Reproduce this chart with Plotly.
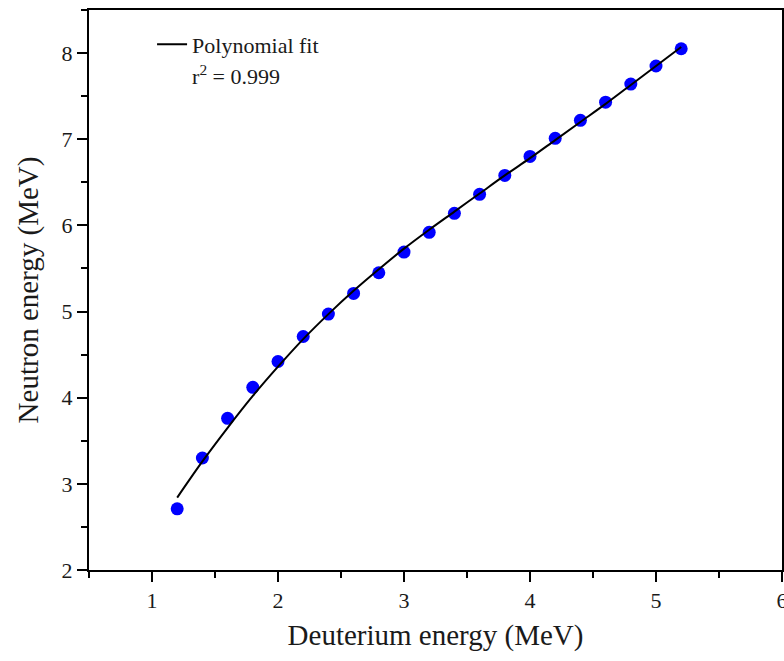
import plotly.graph_objects as go

# Data points
deuterium_energy = [1.2, 1.4, 1.6, 1.8, 2.0, 2.2, 2.4, 2.6, 2.8, 3.0, 3.2,
                    3.4, 3.6, 3.8, 4.0, 4.2, 4.4, 4.6, 4.8, 5.0, 5.2]
neutron_energy = [2.71, 3.30, 3.76, 4.12, 4.42, 4.71, 4.97, 5.21, 5.45, 5.69, 5.92,
                  6.14, 6.36, 6.58, 6.80, 7.01, 7.22, 7.43, 7.64, 7.85, 8.05]

# Polynomial fit curve
fit_x = [1.2, 1.4, 1.6, 1.8, 2.0, 2.2, 2.4, 2.6, 2.8, 3.0, 3.2,
         3.4, 3.6, 3.8, 4.0, 4.2, 4.4, 4.6, 4.8, 5.0, 5.2]
fit_y = [2.84, 3.26, 3.65, 4.02, 4.36, 4.68, 4.97, 5.24, 5.49, 5.73, 5.95,
         6.16, 6.37, 6.58, 6.78, 6.99, 7.20, 7.41, 7.63, 7.85, 8.07]

x_ticks = [1, 2, 3, 4, 5, 6]
y_ticks = [2, 3, 4, 5, 6, 7, 8]

FONT = "Liberation Serif"
TXT = "#1a1a1a"

fig = go.Figure()
fig.add_trace(go.Scatter(
    x=deuterium_energy, y=neutron_energy, mode="markers",
    marker=dict(color="#0000ff", size=13, line=dict(width=0)),
    showlegend=False,
))
fig.add_trace(go.Scatter(
    x=fit_x, y=fit_y, mode="lines", line=dict(color="black", width=2, shape="spline"),
    name="Polynomial fit",
))
fig.add_trace(go.Scatter(
    x=[None], y=[None], mode="lines", line=dict(color="rgba(0,0,0,0)", width=0),
    name="r<sup>2</sup> = 0.999",
))

axis_common = dict(
    showline=True, linecolor="black", linewidth=2, mirror=True,
    ticks="outside", tickcolor="black", tickwidth=2, ticklen=10,
    showgrid=False, zeroline=False,
    tickfont=dict(family=FONT, size=22, color=TXT),
    minor=dict(ticks="outside", ticklen=6, tickwidth=2, tickcolor="black", dtick=0.5, showgrid=False),
    ticklabeloverflow="allow",
    automargin=False,
)

fig.update_xaxes(range=[0.5, 6], tickvals=x_ticks,
                 title=dict(text="Deuterium energy (MeV)", font=dict(family=FONT, size=29, color=TXT), standoff=12),
                 **axis_common)
fig.update_yaxes(range=[2, 8.5], tickvals=y_ticks,
                 title=dict(text="Neutron energy (MeV)", font=dict(family=FONT, size=29, color=TXT), standoff=14),
                 **axis_common)

fig.update_layout(
    width=784, height=661,
    margin=dict(l=89, r=2, t=10, b=91),
    paper_bgcolor="white", plot_bgcolor="white",
    font=dict(family=FONT, color=TXT),
    legend=dict(x=0.091, y=0.976, xanchor="left", yanchor="top",
                bgcolor="rgba(0,0,0,0)", font=dict(family=FONT, size=22, color=TXT),
                tracegroupgap=0, itemwidth=30),
)

fig.write_html("out.html")
